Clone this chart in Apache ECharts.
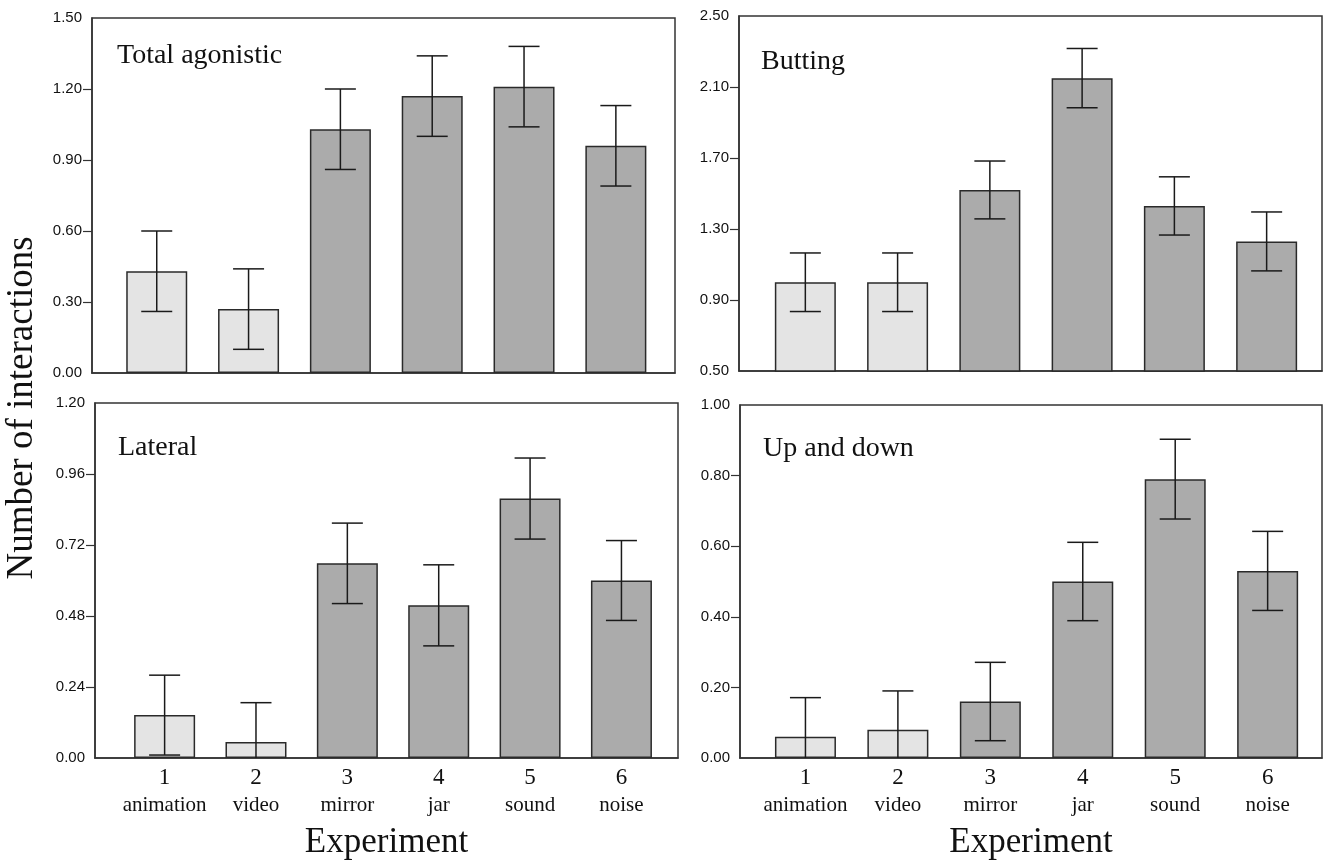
<!DOCTYPE html>
<html>
<head>
<meta charset="utf-8">
<script src="https://cdn.jsdelivr.net/npm/echarts@6/dist/echarts.min.js"></script>
<style>
html,body{margin:0;padding:0;background:#fff;}
#chart{width:1325px;height:861px;}
</style>
</head>
<body>
<div id="chart"></div>
<script>
// ---- data ----
const experimentNumbers = [1, 2, 3, 4, 5, 6];
const experimentNames = ['animation', 'video', 'mirror', 'jar', 'sound', 'noise'];
const stimulusType = ['virtual', 'virtual', 'real', 'real', 'real', 'real'];

const totalAgonisticMean = [0.43, 0.27, 1.03, 1.17, 1.21, 0.96];
const totalAgonisticErr  = [0.17, 0.17, 0.17, 0.17, 0.17, 0.17];

const buttingMean = [1.00, 1.00, 1.52, 2.15, 1.43, 1.23];
const buttingErr  = [0.165, 0.165, 0.163, 0.167, 0.164, 0.166];

const lateralMean = [0.145, 0.054, 0.658, 0.516, 0.877, 0.600];
const lateralErr  = [0.135, 0.133, 0.136, 0.137, 0.137, 0.135];

const upDownMean = [0.06, 0.08, 0.16, 0.50, 0.79, 0.53];
const upDownErr  = [0.111, 0.110, 0.111, 0.111, 0.113, 0.112];

const totalAgonisticTicks = [0.00, 0.30, 0.60, 0.90, 1.20, 1.50];
const buttingTicks = [0.50, 0.90, 1.30, 1.70, 2.10, 2.50];
const lateralTicks = [0.00, 0.24, 0.48, 0.72, 0.96, 1.20];
const upDownTicks = [0.00, 0.20, 0.40, 0.60, 0.80, 1.00];

const panelTitles = ['Total agonistic', 'Butting', 'Lateral', 'Up and down'];

// ---- layout ----
const panels = [
  {title: panelTitles[0], mean: totalAgonisticMean, err: totalAgonisticErr, ticks: totalAgonisticTicks,
   grid: {left: 92, top: 18, width: 583, height: 355}, xmin: 0.295, xmax: 6.644, labels: false, titlePos: [117, 41.5]},
  {title: panelTitles[1], mean: buttingMean, err: buttingErr, ticks: buttingTicks,
   grid: {left: 739, top: 16, width: 583, height: 355}, xmin: 0.281, xmax: 6.60, labels: false, titlePos: [761, 47.5]},
  {title: panelTitles[2], mean: lateralMean, err: lateralErr, ticks: lateralTicks,
   grid: {left: 95, top: 403, width: 583, height: 355}, xmin: 0.238, xmax: 6.619, labels: true, titlePos: [118, 433.5]},
  {title: panelTitles[3], mean: upDownMean, err: upDownErr, ticks: upDownTicks,
   grid: {left: 740, top: 405, width: 582, height: 355.5}, xmin: 0.292, xmax: 6.588, labels: true, titlePos: [763, 434.5]}
];

const LIGHT = '#e4e4e4', DARK = '#ababab', EDGE = '#2a2a2a';
const SERIF = '"Liberation Serif", "Times New Roman", serif';
const SANS = '"Liberation Sans", Arial, sans-serif';

const grids = [], xAxes = [], yAxes = [], series = [], titles = [];

panels.forEach((p, i) => {
  grids.push(Object.assign({show: true, borderColor: '#333', borderWidth: 1.5, backgroundColor: 'transparent', containLabel: false}, p.grid));
  const t = p.ticks;
  const step = +(t[1] - t[0]).toFixed(2);
  xAxes.push({
    type: 'value', gridIndex: i, min: p.xmin, max: p.xmax,
    axisLine: {show: true, lineStyle: {color: '#333', width: 1.5}},
    axisTick: {show: false},
    splitLine: {show: false},
    axisLabel: p.labels ? {
      show: true,
      customValues: experimentNumbers,
      margin: 6,
      formatter: v => {
        const k = experimentNumbers.indexOf(Math.round(v));
        return '{n|' + experimentNumbers[k] + '}\n{t|' + experimentNames[k] + '}';
      },
      rich: {
        n: {fontFamily: SERIF, fontSize: 23, lineHeight: 27.4, color: '#111'},
        t: {fontFamily: SERIF, fontSize: 21, lineHeight: 27.4, color: '#111'}
      }
    } : {show: false},
    name: p.labels ? 'Experiment' : '',
    nameLocation: 'middle',
    nameGap: 67,
    nameTextStyle: {fontFamily: SERIF, fontSize: 35, color: '#111'}
  });
  yAxes.push({
    type: 'value', gridIndex: i, min: t[0], max: t[t.length - 1], interval: step,
    axisLine: {show: true, lineStyle: {color: '#333', width: 1.5}},
    axisTick: {show: true, inside: false, length: 9, lineStyle: {color: '#333', width: 1.2},
               customValues: t.slice(1, t.length - 1)},
    splitLine: {show: false},
    axisLabel: {margin: 10, fontFamily: SANS, fontSize: 15, color: '#111',
                formatter: v => v.toFixed(2)}
  });
  series.push({
    type: 'bar', xAxisIndex: i, yAxisIndex: i, barWidth: 61,
    data: p.mean.map((m, k) => ({
      value: [experimentNumbers[k], m],
      itemStyle: {color: stimulusType[k] === 'virtual' ? LIGHT : DARK}
    })),
    itemStyle: {borderColor: EDGE, borderWidth: 1.5},
    silent: true, animation: false
  });
  series.push({
    type: 'custom', xAxisIndex: i, yAxisIndex: i, clip: true,
    encode: {x: 0, y: 1},
    data: p.mean.map((m, k) => [experimentNumbers[k], m, p.err[k]]),
    renderItem: (params, api) => {
      const x = api.value(0), m = api.value(1), e = api.value(2);
      const top = api.coord([x, m + e]);
      const bot = api.coord([x, m - e]);
      const half = 15.5;
      const st = {stroke: '#1a1a1a', lineWidth: 1.5};
      return {type: 'group', children: [
        {type: 'line', shape: {x1: top[0], y1: top[1], x2: bot[0], y2: bot[1]}, style: st},
        {type: 'line', shape: {x1: top[0] - half, y1: top[1], x2: top[0] + half, y2: top[1]}, style: st},
        {type: 'line', shape: {x1: bot[0] - half, y1: bot[1], x2: bot[0] + half, y2: bot[1]}, style: st}
      ]};
    },
    silent: true, animation: false, z: 5
  });
  titles.push({
    text: p.title, left: p.titlePos[0], top: p.titlePos[1], padding: 0,
    textStyle: {fontFamily: SERIF, fontSize: 28, fontWeight: 'normal', color: '#111'}
  });
});

const chart = echarts.init(document.getElementById('chart'), null, {renderer: 'canvas'});
chart.setOption({
  animation: false,
  backgroundColor: '#fff',
  title: titles,
  grid: grids,
  xAxis: xAxes,
  yAxis: yAxes,
  series: series,
  graphic: [{
    type: 'text', x: 22, y: 408, rotation: Math.PI / 2,
    style: {text: 'Number of interactions', font: '37px ' + SERIF, fill: '#111',
            textAlign: 'center', textVerticalAlign: 'middle'}
  }]
});
</script>
</body>
</html>
